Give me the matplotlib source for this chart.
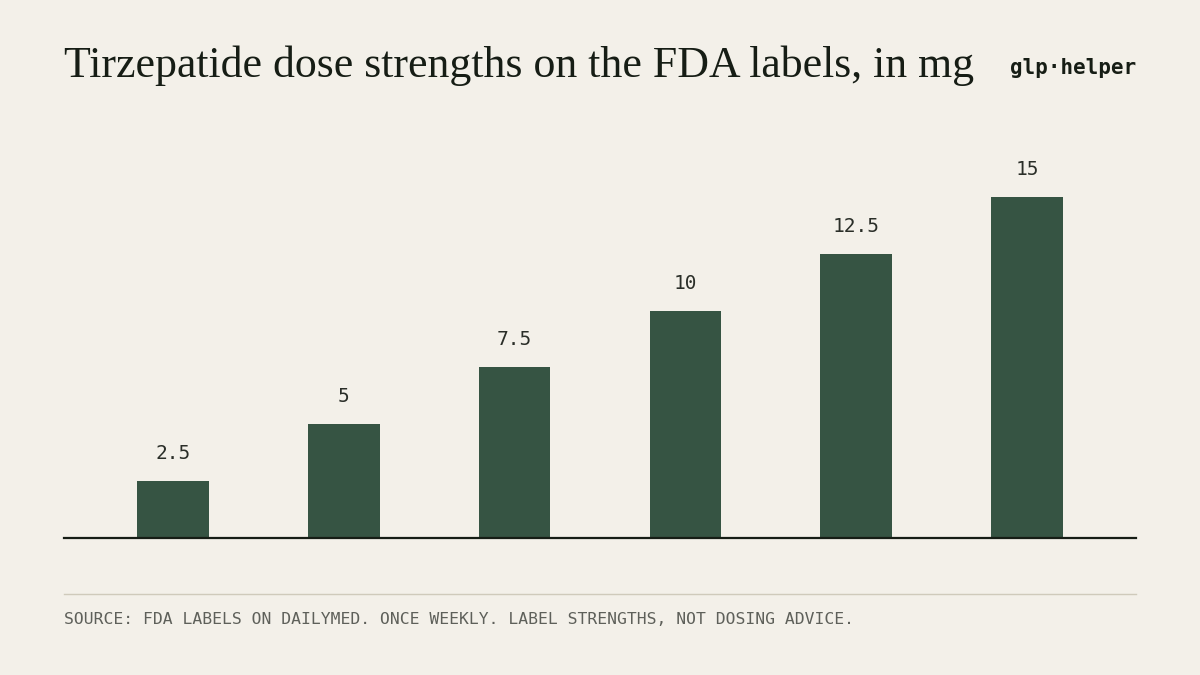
import matplotlib.pyplot as plt
from matplotlib.lines import Line2D

doses = ["2.5", "5", "7.5", "10", "12.5", "15"]
values = [2.5, 5, 7.5, 10, 12.5, 15]

bg = "#f3f0e9"
bar_color = "#365443"
ink = "#161d15"

fig = plt.figure(figsize=(12, 6.75), dpi=100, facecolor=bg)
ax = fig.add_axes([64 / 1200, 137 / 675, 1072 / 1200, 398 / 675])
ax.set_facecolor(bg)

x = list(range(len(values)))
ax.bar(x, values, width=0.42, color=bar_color, zorder=2)
for xi, v, lab in zip(x, values, doses):
    ax.annotate(lab, (xi, v), xytext=(0, 13), textcoords="offset points",
                ha="center", va="bottom", fontsize=14,
                family="DejaVu Sans Mono", color="#2a2e28")

ax.set_xlim(-0.638, 5.638)
ax.set_ylim(0, 17.5)
for s in ["top", "right", "left"]:
    ax.spines[s].set_visible(False)
ax.spines["bottom"].set_color(ink)
ax.spines["bottom"].set_linewidth(1.6)
ax.set_xticks([])
ax.set_yticks([])

fig.text(64 / 1200, 1 - 77 / 675, "Tirzepatide dose strengths on the FDA labels, in mg",
         family="Liberation Serif", fontsize=31.6, color=ink, va="baseline")

fig.text(1136 / 1200, 1 - 74 / 675, "glp\u00b7helper", family="DejaVu Sans Mono",
         fontsize=15, fontweight="bold", color=ink, ha="right", va="baseline")

fig.add_artist(Line2D([64 / 1200, 1136 / 1200], [1 - 594 / 675, 1 - 594 / 675],
                      color="#cfcabb", linewidth=1))
fig.text(64 / 1200, 1 - 620 / 675,
         "SOURCE: FDA LABELS ON DAILYMED. ONCE WEEKLY. LABEL STRENGTHS, NOT DOSING ADVICE.",
         family="DejaVu Sans Mono", fontsize=11.8, color="#5e605a", va="center")

fig.savefig("out.png", dpi=100, facecolor=bg)
